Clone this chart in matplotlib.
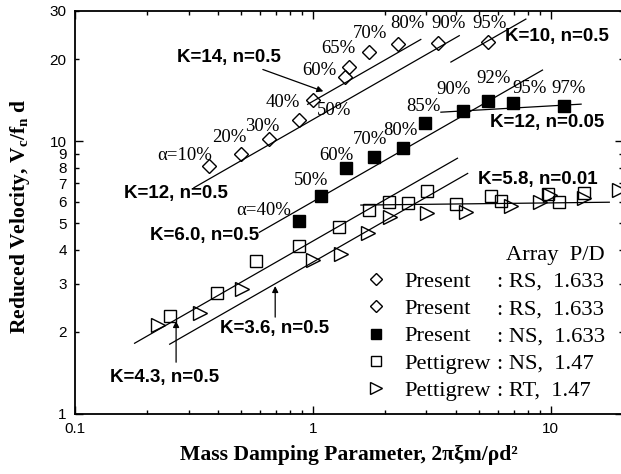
import matplotlib
matplotlib.use("Agg")
import matplotlib.pyplot as plt
import numpy as np
from matplotlib.lines import Line2D
from matplotlib.ticker import FixedLocator, NullFormatter, FixedFormatter

# Present : RS (alpha = 10..60 %)
rs1_x = [0.367, 0.498, 0.651, 0.876, 1.00, 1.36]
rs1_y = [8.1, 9.0, 10.2, 12.0, 14.1, 17.2]
# Present : RS (alpha = 65..95 %)
rs2_x = [1.42, 1.72, 2.27, 3.36, 5.42]
rs2_y = [18.7, 21.3, 22.8, 22.9, 23.1]
# Present : NS (alpha = 40..97 %)
ns_x = [0.876, 1.08, 1.376, 1.80, 2.38, 2.96, 4.28, 5.45, 6.94, 11.3]
ns_y = [5.10, 6.29, 7.94, 8.76, 9.45, 11.7, 12.9, 14.05, 13.75, 13.4]
# Pettigrew : NS
pns_x = [0.251, 0.394, 0.576, 0.876, 1.29, 1.72, 2.09, 2.50, 3.01, 3.99, 5.60, 6.17, 9.69, 10.8, 13.8]
pns_y = [2.28, 2.78, 3.63, 4.13, 4.85, 5.58, 5.99, 5.94, 6.57, 5.86, 6.29, 6.03, 6.38, 5.99, 6.46]
# Pettigrew : RT
prt_x = [0.224, 0.336, 0.503, 1.00, 1.31, 1.70, 2.11, 3.03, 4.39, 6.79, 9.02, 9.93, 13.8, 19.4]
prt_y = [2.12, 2.34, 2.86, 3.65, 3.85, 4.62, 5.28, 5.46, 5.51, 5.79, 5.96, 6.34, 6.17, 6.61]

# fitted curves V = K * x^n : (K, n, x from, x to)
fit_K = [14, 12, 10, 6.0, 12, 4.3, 3.6, 5.8]
fit_n = [0.5, 0.5, 0.5, 0.5, 0.05, 0.5, 0.5, 0.01]
fit_x0 = [0.95, 0.316, 3.8, 0.595, 3.45, 0.178, 0.25, 1.59]
fit_x1 = [2.84, 4.12, 7.85, 9.22, 13.4, 4.05, 4.47, 17.6]

# alpha labels
rs_lab = [u"\u03b1=10%", "20%", "30%", "40%", "50%", "60%", "65%", "70%", "80%", "90%", "95%"]
rs_lab_x = [0.290, 0.444, 0.614, 0.746, 1.225, 1.06, 1.28, 1.735, 2.49, 3.71, 5.51]
rs_lab_y = [8.89, 10.35, 11.35, 13.8, 13.0, 18.2, 21.9, 24.9, 27.1, 27.1, 27.1]
ns_lab = [u"\u03b1=40%", "50%", "60%", "70%", "80%", "85%", "90%", "92%", "95%", "97%"]
ns_lab_x = [0.619, 0.981, 1.26, 1.735, 2.34, 2.91, 3.89, 5.73, 8.16, 11.9]
ns_lab_y = [5.58, 7.19, 8.89, 10.1, 10.97, 13.4, 15.5, 17.0, 15.6, 15.6]

plt.rcParams['mathtext.fontset'] = 'custom'
plt.rcParams['mathtext.rm'] = 'Liberation Serif:bold'
plt.rcParams['mathtext.it'] = 'Liberation Serif:bold'
plt.rcParams['mathtext.bf'] = 'Liberation Serif:bold'

fig = plt.figure(figsize=(6.21, 4.74), dpi=100)
ax = fig.add_axes([75/621., 60.2/474., 547.5/621., 402.8/474.])
ax.set_xscale('log')
ax.set_yscale('log')

for K, n, a, b in zip(fit_K, fit_n, fit_x0, fit_x1):
	xx = np.logspace(np.log10(a), np.log10(b), 50)
	ax.plot(xx, K*xx**n, color='black', lw=0.9)

ax.plot(rs1_x, rs1_y, 'D', mfc='none', mec='black', ms=7.5, mew=1.0)
ax.plot(rs2_x, rs2_y, 'D', mfc='none', mec='black', ms=7.5, mew=1.0)
ax.plot(ns_x, ns_y, 's', mfc='black', mec='black', ms=8.5)
ax.plot(pns_x, pns_y, 's', mfc='none', mec='black', ms=8.5, mew=1.0)
ax.plot(prt_x, prt_y, '>', mfc='none', mec='black', ms=9.5, mew=1.0)

for t, x, y in zip(rs_lab, rs_lab_x, rs_lab_y):
	ax.text(x, y, t, ha='center', va='center', fontsize=13.5, family='Liberation Serif')
for t, x, y in zip(ns_lab, ns_lab_x, ns_lab_y):
	ax.text(x, y, t, ha='center', va='center', fontsize=13.5, family='Liberation Serif')

kfont = dict(fontsize=13.5, family='Liberation Sans', weight='bold', ha='center', va='center')
arrow = dict(arrowstyle='-|>', color='black', lw=0.9, mutation_scale=9)
ax.annotate('K=14, n=0.5', xy=(1.134, 15.1), xytext=(0.444, 20.3), arrowprops=arrow, **kfont)
ax.text(0.266, 6.45, 'K=12, n=0.5', **kfont)
ax.text(10.6, 24.1, 'K=10, n=0.5', **kfont)
ax.text(9.62, 11.7, 'K=12, n=0.05', **kfont)
ax.text(0.352, 4.52, 'K=6.0, n=0.5', **kfont)
ax.text(8.82, 7.26, 'K=5.8, n=0.01', **kfont)
ax.text(0.692, 2.06, 'K=3.6, n=0.5', **kfont)
ax.annotate('', xy=(0.694, 3.01), xytext=(0.694, 2.21), arrowprops=arrow)
ax.text(0.238, 1.364, 'K=4.3, n=0.5', **kfont)
ax.annotate('', xy=(0.266, 2.24), xytext=(0.266, 1.51), arrowprops=arrow)

ax.set_xlim(0.1, 20)
ax.set_ylim(1, 30)

ax.xaxis.set_major_locator(FixedLocator([0.1, 1, 10]))
ax.xaxis.set_major_formatter(FixedFormatter(['0.1', '1', '10']))
ax.xaxis.set_minor_locator(FixedLocator([0.2, 0.3, 0.4, 0.5, 0.6, 0.7, 0.8, 0.9,
	2, 3, 4, 5, 6, 7, 8, 9, 20]))
ax.xaxis.set_minor_formatter(NullFormatter())
ax.yaxis.set_major_locator(FixedLocator([1, 10]))
ax.yaxis.set_major_formatter(FixedFormatter(['1', '10']))
yminor = [2, 3, 4, 5, 6, 7, 8, 9, 20, 30]
ax.yaxis.set_minor_locator(FixedLocator(yminor))
ax.yaxis.set_minor_formatter(FixedFormatter([str(v) for v in yminor]))

ax.tick_params(which='both', direction='in', top=True, right=True,
	labelsize=11, pad=6)
ax.tick_params(which='major', length=6, width=1)
ax.tick_params(which='minor', length=3, width=1)
for lab in ax.get_xticklabels(which='both') + ax.get_yticklabels(which='both'):
	lab.set_family('Liberation Sans')
for s in ax.spines.values():
	s.set_linewidth(1.3)

ax.set_xlabel(u'Mass Damping Parameter, 2\u03c0\u03bem/\u03c1d\u00b2', fontsize=15.6,
	family='Liberation Serif', weight='bold', va='center')
ax.xaxis.set_label_coords(0.5, -0.102)
ax.set_ylabel(r'Reduced Velocity, V$_{\rm c}$/f$_{\rm n}$ d', fontsize=15.5,
	family='Liberation Serif', weight='bold', va='center')
ax.yaxis.set_label_coords(-0.1, 0.49)

# legend: two columns so that the colons line up
mk = [Line2D([], [], ls='none', marker='D', mfc='none', mec='black', ms=6),
	Line2D([], [], ls='none', marker='D', mfc='none', mec='black', ms=6),
	Line2D([], [], ls='none', marker='s', mfc='black', mec='black', ms=7),
	Line2D([], [], ls='none', marker='s', mfc='none', mec='black', ms=7),
	Line2D([], [], ls='none', marker='>', mfc='none', mec='black', ms=8)]
blank = [Line2D([], [], ls='none') for i in range(5)]
names = ['Present', 'Present', 'Present', 'Pettigrew', 'Pettigrew']
kinds = [': RS,  1.633', ': RS,  1.633', ': NS,  1.633', ': NS,  1.47', ': RT,  1.47']
leg = ax.legend(mk + blank, names + kinds, ncol=2, loc='lower right',
	bbox_to_anchor=(0.988, 0.004), frameon=False, borderpad=0,
	prop={'family': 'Liberation Serif', 'size': 16.2},
	handlelength=1.0, handletextpad=0.75, columnspacing=-1.5,
	labelspacing=0.29, title='Array  P/D', alignment='right',
	title_fontproperties={'family': 'Liberation Serif', 'size': 16.2})

fig.savefig('out.png', dpi=100)
